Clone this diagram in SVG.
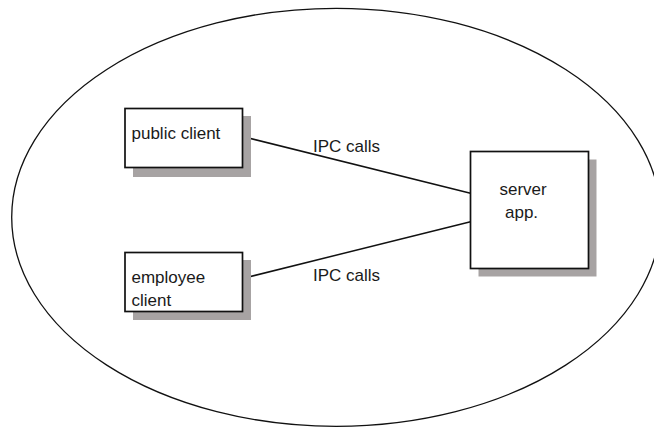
<svg xmlns="http://www.w3.org/2000/svg" width="654" height="428" viewBox="0 0 654 428">
<style>
.shadow{fill:#a7a3a3;stroke:none}
.box{fill:#fff;stroke:#111;stroke-width:1.7}
.lbl{font-family:"Liberation Sans",Arial,sans-serif;font-size:17px;fill:#1a1a1a}
.conn{stroke:#111;stroke-width:1.5;fill:none}
</style>
<rect width="654" height="428" fill="#fff"/>
<ellipse id="boundary" cx="336.2" cy="217.3" rx="324.5" ry="209" fill="none" stroke="#111" stroke-width="1.3"/>
<g id="connectors">
<line class="conn" x1="238.5" y1="135.5" x2="470.5" y2="193.3"/>
<line class="conn" x1="238.5" y1="279.5" x2="470.5" y2="221.7"/>
<text class="lbl" x="313" y="151.7">IPC calls</text>
<text class="lbl" x="313" y="280.7">IPC calls</text>
</g>
<g id="public-client">
<rect class="shadow" x="133" y="116" width="118" height="61"/>
<rect class="box" x="125" y="108.5" width="117.5" height="59"/>
<text class="lbl" x="131.5" y="138.5">public client</text>
</g>
<g id="employee-client">
<rect class="shadow" x="133" y="260" width="118" height="60"/>
<rect class="box" x="125" y="252.5" width="117.5" height="59"/>
<text class="lbl" x="131.5" y="282.7">employee</text>
<text class="lbl" x="131.5" y="305.7">client</text>
</g>
<g id="server-app">
<rect class="shadow" x="478.5" y="159.5" width="118" height="117"/>
<rect class="box" x="470.5" y="151.5" width="118" height="117"/>
<text class="lbl" x="499.5" y="195">server</text>
<text class="lbl" x="505" y="218.3">app.</text>
</g>
</svg>
